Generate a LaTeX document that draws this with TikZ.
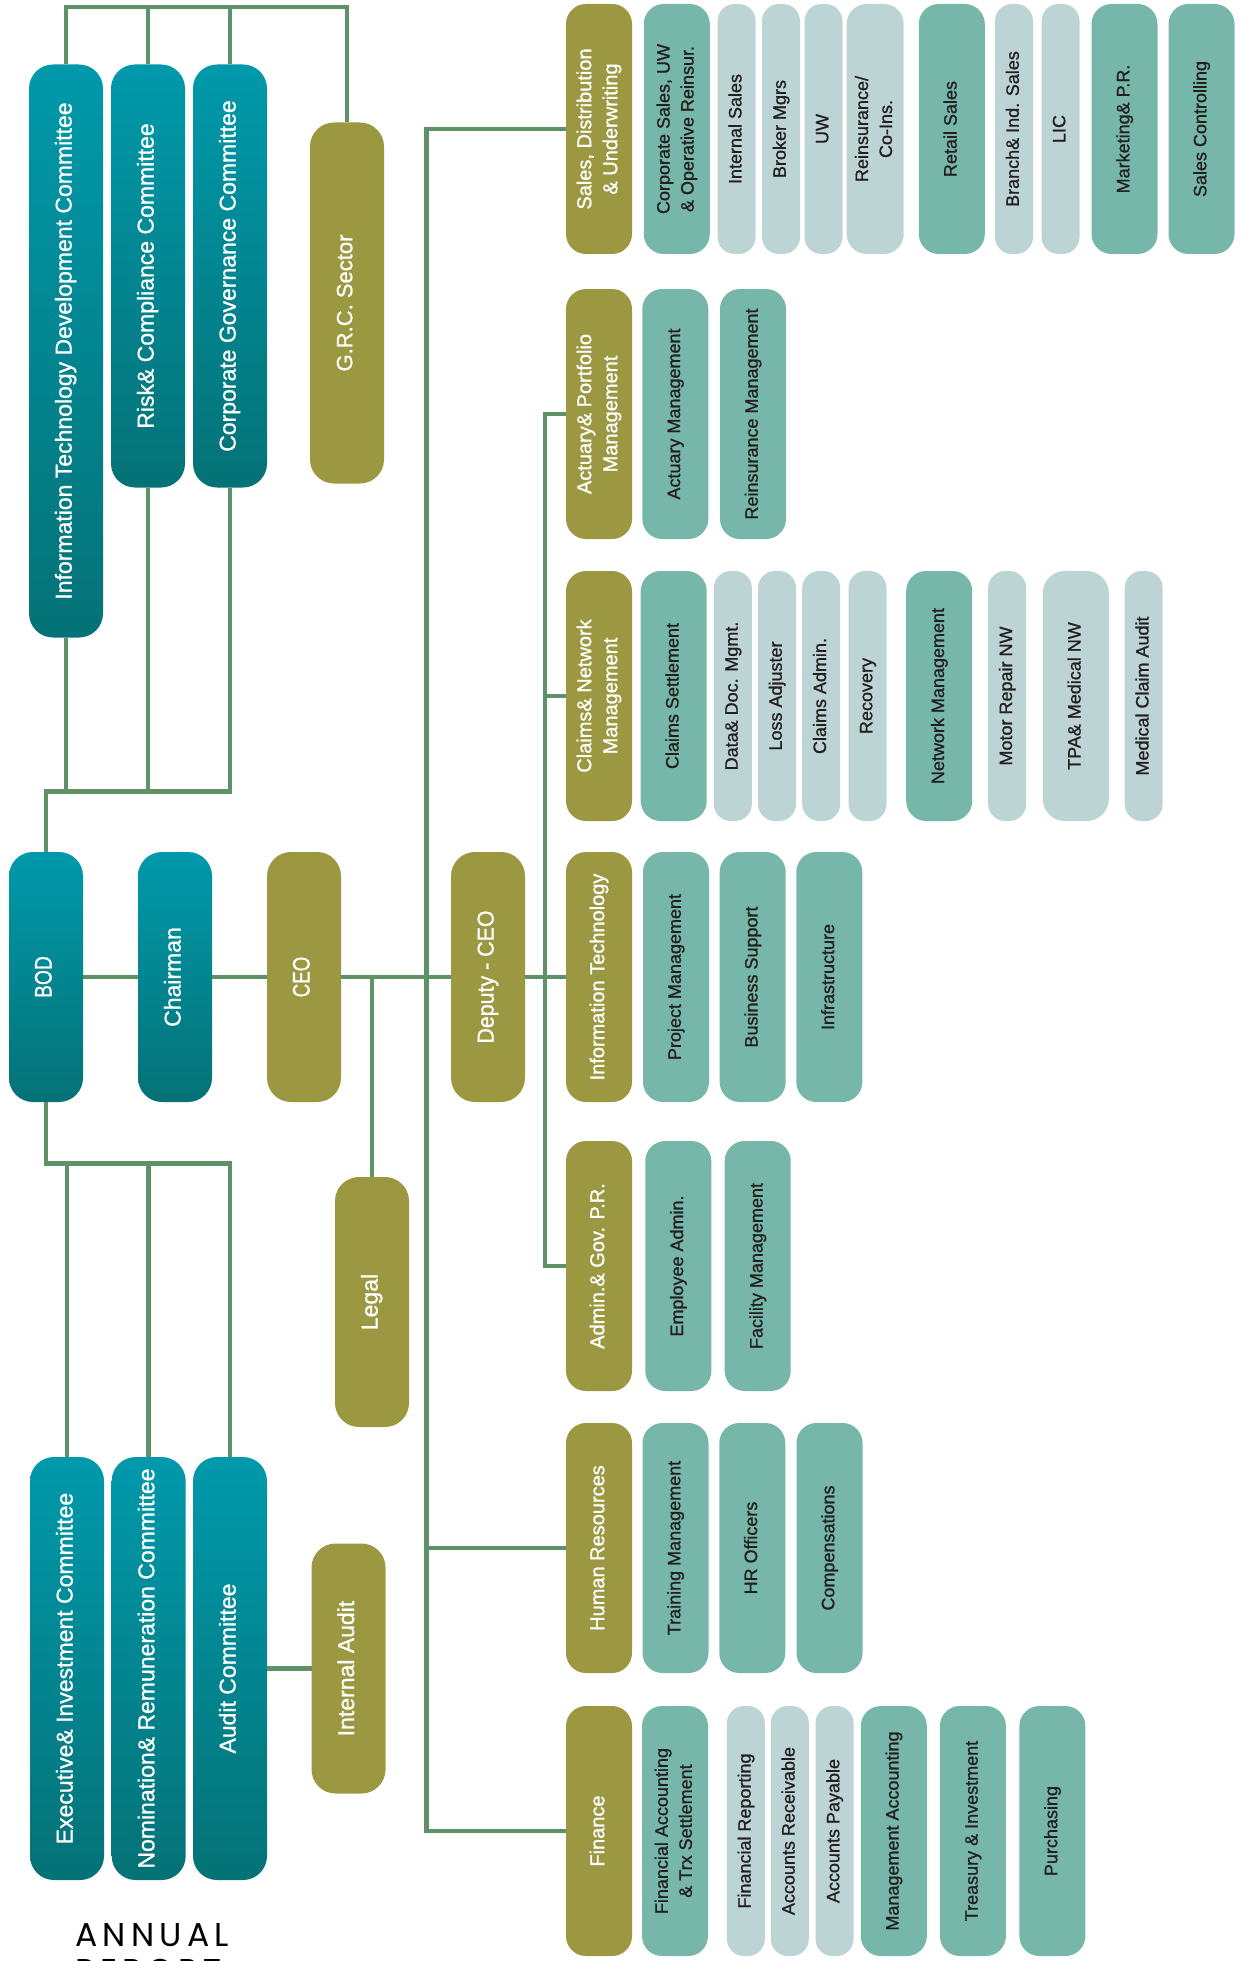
\documentclass[tikz,border=0pt]{standalone}
\usepackage{graphicx}
\usepackage{fontspec}
\setmainfont{Liberation Sans}
\newfontfamily\medfont[FakeBold=1]{Liberation Sans}
\newfontfamily\annualfont[LetterSpace=16]{Poppins}
\definecolor{gtop}{HTML}{0099AB}
\definecolor{gbot}{HTML}{047276}
\definecolor{olive}{HTML}{9C9842}
\definecolor{tealsub}{HTML}{76B7A9}
\definecolor{pale}{HTML}{BDD4D4}
\definecolor{linegreen}{HTML}{5E9166}
\definecolor{darktext}{HTML}{231F20}
\newcommand\vt[1]{\rotatebox{90}{\begin{tabular}{@{}c@{}}#1\end{tabular}}}
\tikzset{
  box/.style={inner sep=0pt, outer sep=0pt, draw=none},
  gbox/.style={box, top color=gtop, bottom color=gbot, rounded corners=24pt, text=white,
    font=\medfont\fontsize{23}{28}\selectfont, minimum width=74pt},
  obox/.style={box, fill=olive, rounded corners=24pt, text=white,
    font=\medfont\fontsize{23}{28}\selectfont, minimum width=74pt},
  dbox/.style={box, fill=olive, rounded corners=20pt, text=white,
    font=\medfont\fontsize{20}{26}\selectfont, minimum width=66pt, minimum height=250pt},
  tbox/.style={box, fill=tealsub, rounded corners=20pt, text=darktext,
    font=\medfont\fontsize{18}{24}\selectfont, minimum width=66pt, minimum height=250pt},
  pbox/.style={box, fill=pale, rounded corners=17pt, text=darktext,
    font=\medfont\fontsize{18}{24}\selectfont, minimum width=38pt, minimum height=250pt},
  conn/.style={draw=linegreen, line width=4.5pt},
}
\begin{document}
\begin{tikzpicture}[x=1pt, y=-1pt]
\useasboundingbox (0,0) rectangle (1245,1961);
\fill[white] (0,0) rectangle (1245,1961);
\clip (0,0) rectangle (1245,1961);

% ---- left column: committees and top management ----
\node[gbox, minimum height=573pt] (itc) at (66,351) {\vt{Information Technology Development Committee}};
\node[gbox, minimum height=423pt] (rcc) at (148,276) {\vt{Risk\& Compliance Committee}};
\node[gbox, minimum height=423pt] (cgc) at (230,276) {\vt{Corporate Governance Committee}};
\node[obox, minimum height=361pt, font=\medfont\fontsize{22}{26}\selectfont] (grc) at (347,303) {\vt{G.R.C. Sector}};

\node[gbox, minimum height=250pt, font=\medfont\fontsize{24}{28}\selectfont] (bod) at (46,977) {\vt{\scalebox{0.8}[1]{BOD}}};
\node[gbox, minimum height=250pt] (chair) at (175,977) {\vt{Chairman}};
\node[obox, minimum height=250pt, font=\medfont\fontsize{24}{28}\selectfont] (ceo) at (304,977) {\vt{\scalebox{0.78}[1]{CEO}}};
\node[obox, minimum height=250pt] (dep) at (488,977) {\vt{\scalebox{0.93}[1]{Deputy - CEO}}};
\node[obox, minimum height=250pt] (legal) at (372,1302) {\vt{Legal}};
\node[obox, minimum height=250pt] (ia) at (348.5,1668.5) {\vt{Internal Audit}};

\node[gbox, minimum height=423pt] (eic) at (67,1668.5) {\vt{Executive\& Investment Committee}};
\node[gbox, minimum height=423pt] (nrc) at (148.7,1668.5) {\vt{Nomination\& Remuneration Committee}};
\node[gbox, minimum height=423pt] (ac) at (230,1668.5) {\vt{Audit Committee}};

% ---- department heads ----
\node[dbox] (sal) at (599,129) {\vt{Sales, Distribution\\ \& Underwriting}};
\node[dbox] (act) at (599,414) {\vt{Actuary\& Portfolio\\ Management}};
\node[dbox] (clm) at (599,696) {\vt{Claims\& Network\\ Management}};
\node[dbox] (ith) at (599,977) {\vt{Information Technology}};
\node[dbox] (adm) at (599,1266) {\vt{Admin.\& Gov. P.R.}};
\node[dbox] (hr) at (599,1548) {\vt{Human Resources}};
\node[dbox] (fin) at (599,1831) {\vt{Finance}};

% ---- sales row ----
\node[tbox] (s1) at (676.8,129) {\vt{Corporate Sales, UW\\ \& Operative Reinsur.}};
\node[pbox] (s2) at (736.6,129) {\vt{Internal Sales}};
\node[pbox] (s3) at (781,129) {\vt{Broker Mgrs}};
\node[pbox] (s4) at (823.5,129) {\vt{UW}};
\node[pbox, minimum width=57pt, rounded corners=20pt] (s5) at (875.2,129) {\vt{Reinsurance/\\ Co-Ins.}};
\node[tbox] (s6) at (951.8,129) {\vt{Retail Sales}};
\node[pbox] (s7) at (1014,129) {\vt{Branch\& Ind. Sales}};
\node[pbox] (s8) at (1060.5,129) {\vt{LIC}};
\node[tbox] (s9) at (1124.5,129) {\vt{Marketing\& P.R.}};
\node[tbox] (s10) at (1201.5,129) {\vt{Sales Controlling}};

% ---- actuary row ----
\node[tbox] (a1) at (675.3,414) {\vt{Actuary Management}};
\node[tbox] (a2) at (753,414) {\vt{Reinsurance Management}};

% ---- claims row ----
\node[tbox] (c1) at (673.7,696) {\vt{Claims Settlement}};
\node[pbox] (c2) at (732.9,696) {\vt{Data\& Doc. Mgmt.}};
\node[pbox] (c3) at (777,696) {\vt{Loss Adjuster}};
\node[pbox] (c4) at (821.2,696) {\vt{Claims Admin.}};
\node[pbox] (c5) at (867.5,696) {\vt{Recovery}};
\node[tbox] (c6) at (939.2,696) {\vt{Network Management}};
\node[pbox] (c7) at (1007.2,696) {\vt{Motor Repair NW}};
\node[pbox, minimum width=66pt, rounded corners=22pt] (c8) at (1075.8,696) {\vt{TPA\& Medical NW}};
\node[pbox] (c9) at (1143.7,696) {\vt{Medical Claim Audit}};

% ---- IT row ----
\node[tbox] (i1) at (676,977) {\vt{Project Management}};
\node[tbox] (i2) at (752.7,977) {\vt{Business Support}};
\node[tbox] (i3) at (829.3,977) {\vt{Infrastructure}};

% ---- admin row ----
\node[tbox] (m1) at (678.3,1266) {\vt{Employee Admin.}};
\node[tbox] (m2) at (757.7,1266) {\vt{Facility Management}};

% ---- HR row ----
\node[tbox] (h1) at (675.5,1548) {\vt{Training Management}};
\node[tbox] (h2) at (752.3,1548) {\vt{HR Officers}};
\node[tbox] (h3) at (829.5,1548) {\vt{Compensations}};

% ---- finance row ----
\node[tbox] (f1) at (675,1831) {\vt{Financial Accounting\\ \& Trx Settlement}};
\node[pbox] (f2) at (745.9,1831) {\vt{Financial Reporting}};
\node[pbox] (f3) at (789.8,1831) {\vt{Accounts Receivable}};
\node[pbox] (f4) at (834.5,1831) {\vt{Accounts Payable}};
\node[tbox] (f5) at (893.8,1831) {\vt{Management Accounting}};
\node[tbox] (f6) at (972.9,1831) {\vt{Treasury \& Investment}};
\node[tbox] (f7) at (1052.4,1831) {\vt{Purchasing}};

% ---- footer ----
\node[anchor=base west, inner sep=0pt, font=\annualfont\fontsize{33}{36}\selectfont] (annual) at (75,1946) {ANNUAL};
\node[anchor=base west, inner sep=0pt, font=\annualfont\fontsize{33}{36}\selectfont] (report) at (75,1982) {REPORT};

% ---- connectors ----
\coordinate (topbus) at (0,7);
\coordinate (mid1) at (0,791.7);
\coordinate (mid2) at (0,1163.3);
\coordinate (t1) at (426.7,977);
\coordinate (t2) at (545,977);

\draw[conn] (itc.north) -- (itc.north |- topbus) -| (grc.north);
\draw[conn] (rcc.north) -- (rcc.north |- topbus);
\draw[conn] (cgc.north) -- (cgc.north |- topbus);

\draw[conn] (bod.north) -- (bod.north |- mid1) -| (cgc.south);
\draw[conn] (itc.south) -- (itc.south |- mid1);
\draw[conn] (rcc.south) -- (rcc.south |- mid1);

\draw[conn] (bod.south) -- (bod.south |- mid2) -| (ac.north);
\draw[conn] (eic.north) -- (eic.north |- mid2);
\draw[conn] (nrc.north) -- (nrc.north |- mid2);
\draw[conn] (ac.east) -- (ia.west);

\draw[conn] (bod) -- (chair);
\draw[conn] (chair) -- (ceo);
\draw[conn] (ceo) -- (dep);
\draw[conn] (dep) -- (ith);
\draw[conn] (legal.north) -- (legal.north |- ceo.east);

\draw[conn] (sal.west) -| (t1) |- (fin.west);
\draw[conn] (hr.west) -- (hr.west -| t1);
\draw[conn] (act.west) -| (t2) |- (adm.west);
\draw[conn] (clm.west) -- (clm.west -| t2);
\end{tikzpicture}
\end{document}
